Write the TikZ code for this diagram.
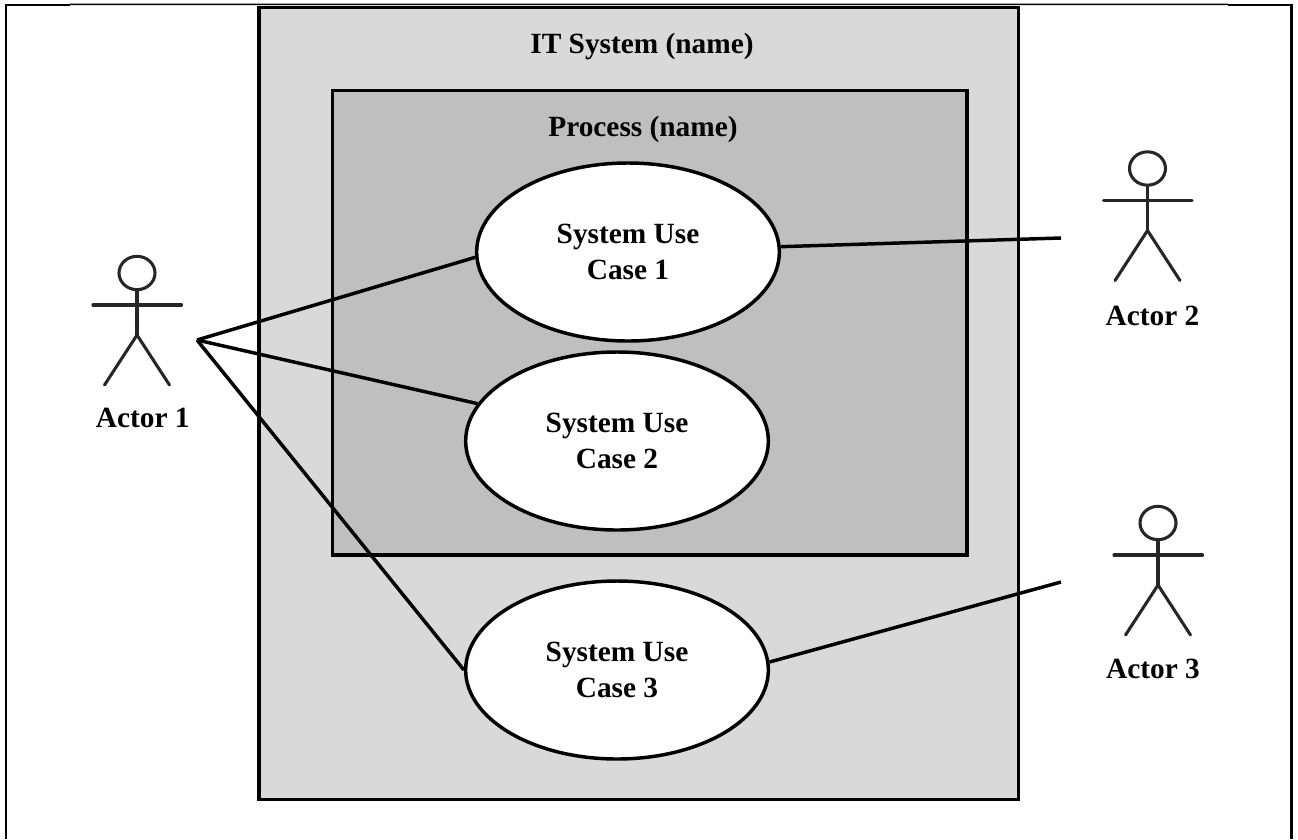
\documentclass[tikz,border=0pt]{standalone}
\usepackage{fontspec}
\setmainfont{Liberation Serif}
\usetikzlibrary{shapes.geometric}
\tikzset{
  ln/.style={line width=2.6pt,black},
  figure/.style={line width=2.3pt,black!85,line cap=round},
  frameline/.style={line width=1.9pt,black},
  sysbox/.style={draw=black,line width=2.5pt,fill=black!15,rectangle,minimum width=569.5pt,minimum height=594pt,inner sep=0pt},
  procbox/.style={draw=black,line width=2.5pt,fill=black!25,rectangle,minimum width=476pt,minimum height=348.4pt,inner sep=0pt},
  usecase/.style={draw=black,line width=2.6pt,fill=white,ellipse,minimum width=227pt,minimum height=133.5pt,inner sep=0pt,align=center,font=\bfseries\fontsize{22}{26.5}\selectfont,text=black},
  lbl/.style={font=\bfseries\fontsize{22}{26}\selectfont,text=black,inner sep=0pt,anchor=base},
  headc/.style={draw=black!85,line width=2.3pt,ellipse,minimum width=27pt,minimum height=25pt,inner sep=0pt},
  pics/actor/.style={code={
    \node[headc] (-head) at (0,0) {};
    \coordinate (-hip) at (0,62);
    \coordinate (-armL) at (-44,32);
    \coordinate (-armR) at (44.5,32);
    \coordinate (-legL) at (-32.5,112);
    \coordinate (-legR) at (32.5,112);
    \draw[figure] (-head.south) -- (-hip);
    \draw[figure] (-armL) -- (-armR);
    \draw[figure] (-legL) -- (-hip) -- (-legR);
  }}
}
\begin{document}
\begin{tikzpicture}[x=0.75pt,y=-0.75pt]
\useasboundingbox (0,0) rectangle (1298,839);
\fill[white] (0,0) rectangle (1298,839);
% outer frame
\coordinate (fbl) at (6,839);
\coordinate (ftl) at (6,5);
\coordinate (ft1) at (70,5);
\coordinate (ft2) at (1228,5);
\coordinate (ftr) at (1291.5,5);
\coordinate (fbr) at (1291.5,839);
\draw[frameline] (fbl) -- (ftl) -- (ft1);
\draw[line width=1.1pt] (ft1) ++(0,-0.7) -- ([yshift=0.5pt]ft2);
\draw[frameline] (ft2) -- (ftr) -- (fbr);
% boxes
\node[sysbox] (sys) at (638.7,403.5) {};
\node[procbox] (proc) at (649.6,322.7) {};
\node[lbl] (systitle) at (642,53.5) {IT System (name)};
\node[lbl] (proctitle) at (643,136.5) {Process (name)};
% use cases
\node[usecase] (uc1) at (628,252) {System Use\\Case 1};
\node[usecase] (uc2) at (617,441) {System Use\\Case 2};
\node[usecase] (uc3) at (617,670) {System Use\\Case 3};
% actors
\pic (a1) at (137,273) {actor};
\pic (a2) at (1147.5,168.5) {actor};
\pic (a3) at (1158,523) {actor};
\node[lbl] (a1label) at (142.8,427) {Actor 1};
\node[lbl] (a2label) at (1152.5,325) {Actor 2};
\node[lbl] (a3label) at (1153,678) {Actor 3};
% connectors
\coordinate (hand1) at (197,340);
\coordinate (hand2) at (1061,238);
\coordinate (hand3) at (1061,582);
\draw[ln] (hand1) -- (uc1.182);
\draw[ln] (hand1) -- (uc2.165);
\draw[ln] (hand1) -- (uc3.180);
\draw[ln] (uc1.2) -- (hand2);
\draw[ln] (uc3.3) -- (hand3);
\end{tikzpicture}
\end{document}
